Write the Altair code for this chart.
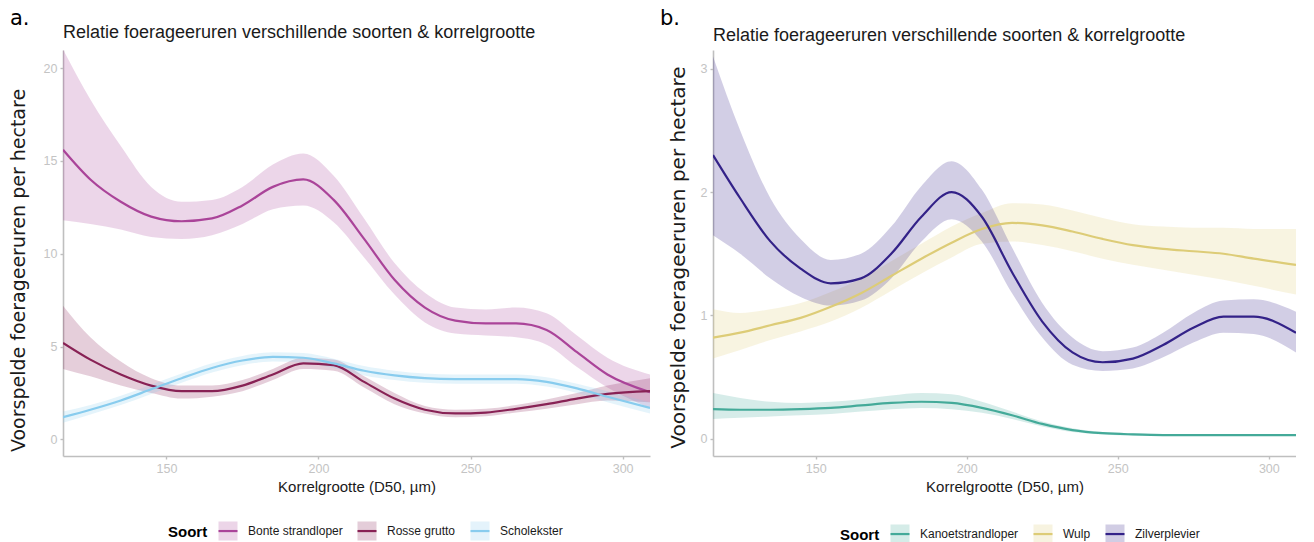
import altair as alt
import pandas as pd

# ---------------- data ----------------
x_vals = [116, 125, 135, 145, 155, 165, 175, 185, 195, 205, 215, 225, 235, 245, 255, 265, 275, 285, 295, 309]

# Panel a
species_a = ["Bonte strandloper", "Rosse grutto", "Scholekster"]
colors_a = ["#AA4499", "#882255", "#88CCEE"]

bonte_fit = [15.6, 14.0, 12.8, 12.0, 11.75, 11.9, 12.6, 13.6, 14.0, 12.9, 10.8, 8.6, 7.1, 6.4, 6.25, 6.25, 5.9, 4.7, 3.5, 2.55]
bonte_lo = [11.8, 11.6, 11.3, 10.9, 10.8, 11.0, 11.6, 12.4, 12.6, 11.7, 9.8, 7.8, 6.3, 5.7, 5.6, 5.5, 5.1, 3.9, 2.8, 1.7]
bonte_hi = [21.0, 18.3, 15.8, 13.6, 12.8, 12.9, 13.6, 14.8, 15.4, 14.2, 11.9, 9.5, 7.9, 7.1, 7.0, 7.1, 6.8, 5.6, 4.4, 3.5]

rosse_fit = [5.2, 4.3, 3.5, 2.9, 2.6, 2.6, 2.9, 3.5, 4.1, 4.0, 3.1, 2.2, 1.6, 1.4, 1.45, 1.65, 1.9, 2.2, 2.45, 2.6]
rosse_lo = [3.8, 3.4, 2.9, 2.5, 2.2, 2.3, 2.6, 3.2, 3.8, 3.7, 2.8, 1.9, 1.4, 1.2, 1.25, 1.45, 1.65, 1.9, 2.1, 2.0]
rosse_hi = [7.2, 5.5, 4.2, 3.3, 2.9, 2.9, 3.2, 3.8, 4.4, 4.3, 3.4, 2.5, 1.8, 1.6, 1.65, 1.85, 2.15, 2.5, 2.9, 3.3]

schol_fit = [1.2, 1.6, 2.1, 2.7, 3.3, 3.85, 4.25, 4.45, 4.4, 4.1, 3.7, 3.45, 3.3, 3.25, 3.25, 3.25, 3.1, 2.75, 2.3, 1.7]
schol_lo = [0.9, 1.35, 1.85, 2.45, 3.05, 3.6, 4.0, 4.2, 4.15, 3.85, 3.45, 3.2, 3.05, 3.0, 3.0, 3.0, 2.85, 2.5, 2.0, 1.4]
schol_hi = [1.5, 1.85, 2.35, 2.95, 3.55, 4.1, 4.5, 4.7, 4.65, 4.35, 3.95, 3.7, 3.55, 3.5, 3.5, 3.5, 3.35, 3.0, 2.6, 2.0]

# Panel b
species_b = ["Kanoetstrandloper", "Wulp", "Zilverplevier"]
colors_b = ["#44AA99", "#DDCC77", "#332288"]

kanoet_fit = [0.24, 0.235, 0.235, 0.24, 0.25, 0.27, 0.29, 0.3, 0.29, 0.25, 0.19, 0.12, 0.07, 0.045, 0.035, 0.03, 0.03, 0.03, 0.03, 0.03]
kanoet_lo = [0.16, 0.17, 0.18, 0.19, 0.2, 0.22, 0.24, 0.25, 0.24, 0.21, 0.16, 0.1, 0.055, 0.035, 0.027, 0.024, 0.024, 0.024, 0.024, 0.024]
kanoet_hi = [0.37, 0.33, 0.3, 0.29, 0.3, 0.32, 0.35, 0.37, 0.36, 0.3, 0.22, 0.14, 0.085, 0.055, 0.045, 0.038, 0.037, 0.037, 0.037, 0.037]

wulp_fit = [0.82, 0.86, 0.92, 0.98, 1.07, 1.18, 1.32, 1.46, 1.59, 1.7, 1.75, 1.73, 1.68, 1.62, 1.57, 1.54, 1.52, 1.5, 1.46, 1.41]
wulp_lo = [0.65, 0.72, 0.8, 0.87, 0.95, 1.06, 1.2, 1.34, 1.47, 1.58, 1.6, 1.57, 1.52, 1.46, 1.41, 1.37, 1.33, 1.29, 1.24, 1.17]
wulp_hi = [1.05, 1.02, 1.05, 1.1, 1.19, 1.3, 1.44, 1.58, 1.72, 1.83, 1.91, 1.9, 1.85, 1.79, 1.74, 1.72, 1.71, 1.71, 1.7, 1.7]

zilver_fit = [2.3, 1.95, 1.6, 1.38, 1.26, 1.3, 1.5, 1.8, 2.0, 1.8, 1.35, 0.95, 0.7, 0.62, 0.65, 0.76, 0.9, 0.99, 0.99, 0.86]
zilver_lo = [1.65, 1.5, 1.3, 1.15, 1.08, 1.12, 1.3, 1.6, 1.78, 1.6, 1.18, 0.82, 0.6, 0.55, 0.57, 0.66, 0.78, 0.86, 0.85, 0.7]
zilver_hi = [3.1, 2.5, 1.95, 1.62, 1.45, 1.5, 1.72, 2.05, 2.25, 2.02, 1.55, 1.1, 0.82, 0.71, 0.74, 0.86, 1.02, 1.12, 1.13, 1.03]

x_ticks = [150, 200, 250, 300]
y_ticks_a = [0, 5, 10, 15, 20]
y_ticks_b = [0, 1, 2, 3]

title_text = "Relatie foerageeruren verschillende soorten & korrelgrootte"
x_title = "Korrelgrootte (D50, µm)"
y_title = "Voorspelde foerageeruren per hectare"

# legend key shape: a square; for the line legend a dash pattern shows only the middle stroke
KEY_PATH = "M-1,0H1V1H-1V-1H1V0Z"


def long_df(species, fits, los, his):
    rows = []
    for sp, f, lo, hi in zip(species, fits, los, his):
        for xv, a, b, c in zip(x_vals, f, lo, hi):
            rows.append({"D50": xv, "Soort": sp, "Soort2": sp, "fit": a, "lo": b, "hi": c})
    return pd.DataFrame(rows)


df_a = long_df(species_a, [bonte_fit, rosse_fit, schol_fit],
               [bonte_lo, rosse_lo, schol_lo], [bonte_hi, rosse_hi, schol_hi])
df_b = long_df(species_b, [kanoet_fit, wulp_fit, zilver_fit],
               [kanoet_lo, wulp_lo, zilver_lo], [kanoet_hi, wulp_hi, zilver_hi])


def panel(df, colors, ydom, yticks, tag, tag_y, title_y, leg_x, leg_y,
          yt_size, yt_x, yt_y, w, h):
    xenc = alt.X("D50:Q", scale=alt.Scale(domain=[116, 309], nice=False, zero=False),
                 axis=alt.Axis(values=x_ticks, title=x_title))
    yaxis = alt.Axis(values=yticks, title=y_title, titleFontSize=yt_size,
                     titleX=yt_x, titleY=yt_y, titleBaseline="middle", titleAngle=270)
    yscale = alt.Scale(domain=ydom, nice=False, zero=False)
    common_leg = dict(orient="none", legendX=leg_x, legendY=leg_y, direction="horizontal",
                      title="Soort", titleOrient="left", titleAnchor="middle",
                      titleBaseline="middle", titleFont="Liberation Sans",
                      titleFontSize=15, titleFontWeight="bold", titleColor="#000000",
                      titlePadding=9, labelFont="Liberation Sans", labelFontSize=12,
                      labelColor="#1a1a1a", labelOffset=9, columnPadding=10,
                      symbolSize=361, symbolType=KEY_PATH, symbolStrokeWidth=2.2)
    band = alt.Chart(df).mark_area(opacity=0.22, clip=True, interpolate="monotone").encode(
        x=xenc,
        y=alt.Y("lo:Q", scale=yscale, axis=yaxis),
        y2="hi:Q",
        fill=alt.Fill("Soort:N", scale=alt.Scale(range=colors),
                      legend=alt.Legend(symbolOpacity=0.22, symbolStrokeColor="transparent",
                                        **common_leg)),
    )
    line = alt.Chart(df).mark_line(strokeWidth=2.2, clip=True, interpolate="monotone").encode(
        x=xenc,
        y=alt.Y("fit:Q", scale=yscale, axis=yaxis),
        stroke=alt.Stroke("Soort2:N", scale=alt.Scale(range=colors),
                          legend=alt.Legend(symbolDash=[19, 400], symbolFillColor="transparent",
                                            symbolOpacity=1, labelOpacity=0,
                                            titleOpacity=0, **common_leg)),
    )
    tag_chart = alt.Chart(pd.DataFrame({"t": [tag]})).mark_text(
        font="DejaVu Sans", fontSize=21, align="left", baseline="alphabetic", color="#000000"
    ).encode(text="t:N", x=alt.value(-53), y=alt.value(tag_y))
    title_chart = alt.Chart(pd.DataFrame({"t": [title_text]})).mark_text(
        font="Liberation Sans", fontSize=18, align="left", baseline="alphabetic", color="#1a1a1a"
    ).encode(text="t:N", x=alt.value(0), y=alt.value(title_y))
    return alt.layer(band, line, tag_chart, title_chart).properties(width=w, height=h)


left = panel(df_a, colors_a, [-0.89, 20.97], y_ticks_a, "a.", -25, -12,
             105, 470, 19, -45, 220, 587, 406)
right = panel(df_b, colors_b, [-0.14, 3.152], y_ticks_b, "b.", -25, -9,
              127, 473, 20, -35, 207, 583, 406)

chart = alt.hconcat(left, right, spacing=10).resolve_scale(
    fill="independent", stroke="independent", x="independent", y="independent"
).resolve_legend(fill="independent", stroke="independent").configure(
    padding=0
).configure_view(stroke=None).configure_axis(
    domainColor="#BFBFBF", domainWidth=1.6, tickColor="#BFBFBF", tickWidth=1.4, tickSize=3,
    labelFont="Liberation Sans", labelFontSize=12.5, labelColor="#C4C4C4", labelPadding=3,
    titleFont="Liberation Sans", titleFontSize=15, titleFontWeight="normal", titleColor="#1a1a1a",
    grid=False
).configure_axisX(titlePadding=5).configure_axisY(titleFont="DejaVu Sans")

chart.save("out.html", embed_options={"renderer": "svg", "actions": False})
